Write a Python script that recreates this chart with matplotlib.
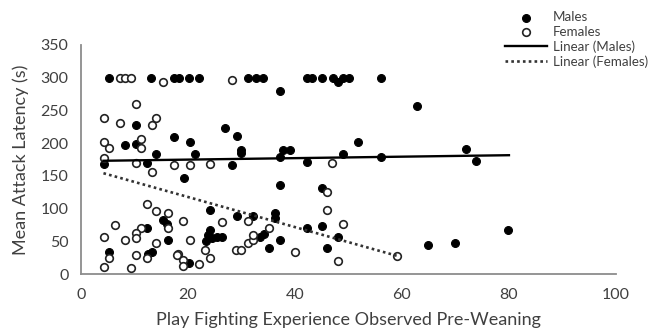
import numpy as np
import matplotlib.pyplot as plt

plt.rcParams['font.family'] = ['Lato', 'DejaVu Sans']

# males (filled circles): play fighting experience vs. mean attack latency
male_x = [5.3, 13.0, 17.3, 18.3, 20.2, 22.1, 31.2, 32.8, 34.1, 42.2, 43.1, 45.1,
          47.2, 49.0, 50.1, 56.0, 48.1,
          37.2, 62.8, 27.0, 10.3, 17.4, 29.2, 51.8, 20.3, 8.2, 10.3, 72.0, 30.0,
          30.0, 21.3, 14.1, 37.2, 37.8, 39.1, 48.9, 56.0, 73.8, 42.2, 4.3, 12.3,
          28.3, 19.2, 37.2, 45.0, 24.1, 32.1, 29.1, 36.2, 36.2, 45.0, 42.2, 79.9,
          24.1, 23.8, 23.3, 24.5, 25.4, 26.3, 15.3, 16.0, 16.2, 12.4, 33.5, 34.3,
          37.2, 48.0, 35.1, 46.0, 69.9, 64.9, 5.3, 13.2, 12.6, 20.2]
male_y = [300, 300, 300, 300, 300, 300, 300, 300, 300, 300, 300, 300,
          300, 300, 300, 300, 294,
          279, 257, 223, 227, 210, 211, 201, 201, 197, 199, 191, 190,
          185, 183, 184, 179, 189, 189, 183, 178, 173, 171, 168, 170,
          167, 146, 136, 131, 98, 89, 89, 93, 86, 74, 70, 68,
          67, 60, 51, 55, 57, 57, 83, 76, 52, 70, 57, 61,
          52, 56, 39, 40, 48, 45, 33, 33, 30, 17]

# females (open circles)
female_x = [7.2, 8.2, 9.3, 15.3, 28.3,
            10.3, 4.3, 7.3, 13.2, 14.1, 4.3, 5.3, 11.2, 11.2, 4.3, 10.3, 13.2,
            17.4, 20.3, 24.2, 47.0, 45.9, 12.3, 14.1, 16.2, 45.9, 19.1, 26.3,
            31.2, 16.2, 35.2, 48.9, 6.4, 11.2, 4.3, 8.2, 10.3, 10.3, 14.1, 20.4,
            31.2, 32.2, 32.2, 29.0, 30.0, 23.2, 40.0, 18.2, 5.3, 4.3, 9.3, 10.3,
            12.3, 17.9, 19.1, 19.1, 22.1, 24.1, 48.1, 59.0]
female_y = [300, 300, 300, 293, 297,
            259, 238, 230, 227, 238, 201, 192, 206, 192, 177, 170, 156,
            166, 166, 168, 169, 126, 107, 97, 93, 98, 81, 80,
            81, 70, 70, 76, 75, 70, 57, 52, 62, 55, 47, 52,
            48, 52, 60, 37, 37, 37, 34, 31, 24, 10, 9, 29,
            25, 29, 22, 12, 15, 24, 20, 27]

# linear trendlines as drawn (start/end)
trend_male_x = [4.2, 80.0]
trend_male_y = [173, 181.5]
trend_female_x = [4.2, 59.0]
trend_female_y = [154, 28]

fig = plt.figure(figsize=(6.5, 3.35), dpi=100)
ax = fig.add_axes([0.1246, 0.182, 0.823, 0.684])

ax.scatter(male_x, male_y, s=32, c='black', edgecolors='black', linewidths=0.8,
           label='Males', zorder=3)
ax.scatter(female_x, female_y, s=30, facecolors='white', edgecolors='#222222',
           linewidths=1.2, label='Females', zorder=3)
ax.plot(trend_male_x, trend_male_y, color='black', lw=1.7, label='Linear (Males)', zorder=4)
ax.plot(trend_female_x, trend_female_y, color='#333333', lw=1.9, ls=(0, (1, 1.2)),
        label='Linear (Females)', zorder=4)

ax.set_xlim(0, 100)
ax.set_ylim(0, 350)
ax.set_xticks(np.arange(0, 101, 20))
ax.set_yticks(np.arange(0, 351, 50))
ax.tick_params(length=0, labelsize=11.5, colors='#404040')
ax.tick_params(axis='x', pad=10)
ax.tick_params(axis='y', pad=9)
for s in ['top', 'right']:
    ax.spines[s].set_visible(False)
for s in ['left', 'bottom']:
    ax.spines[s].set_color('#8c8c8c')
    ax.spines[s].set_linewidth(1.3)

ax.set_xlabel('Play Fighting Experience Observed Pre-Weaning', fontsize=13,
              color='#404040', labelpad=7)
ax.set_ylabel('Mean Attack Latency (s)', fontsize=13, color='#404040', labelpad=8)

fig.legend(loc='upper left', bbox_to_anchor=(0.762, 0.995), frameon=False,
           fontsize=9.6, labelspacing=0.2, handlelength=3.2, handletextpad=0.4,
           borderpad=0.2, labelcolor='#404040')

fig.savefig('out.png', dpi=100)
